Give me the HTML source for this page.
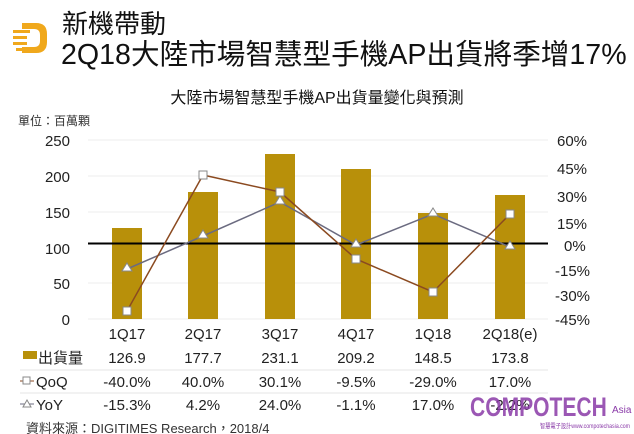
<!DOCTYPE html>
<html><head><meta charset="utf-8"><style>
body{margin:0;background:#fff;}
svg{display:block;font-family:"Liberation Sans","Noto Sans CJK TC",sans-serif;}
</style></head><body>
<svg width="634" height="434" viewBox="0 0 634 434">
<!-- logo -->
<g fill="#f0a81c">
<path d="M22 23 H36 Q47 23 47 34 V42 Q47 53 36 53 H22 V47 H34 Q40 47 40 41 V35 Q40 29 34 29 H22 Z"/>
<rect x="13" y="30" width="17" height="3"/><rect x="13" y="36" width="14" height="3"/><rect x="13" y="42" width="14" height="3"/><rect x="16" y="48" width="12" height="3"/>
</g>
<text x="62" y="33" font-size="26" fill="#111">新機帶動</text>
<text x="61" y="64" font-size="28.6" fill="#111">2Q18大陸市場智慧型手機AP出貨將季增17%</text>
<text x="317" y="103" font-size="16" text-anchor="middle" fill="#111">大陸市場智慧型手機AP出貨量變化與預測</text>
<text x="18" y="125" font-size="12" fill="#333">單位：百萬顆</text>
<!-- gridlines -->
<g stroke="#eee" stroke-width="1">
<line x1="88" y1="140" x2="548" y2="140"/><line x1="88" y1="176" x2="548" y2="176"/><line x1="88" y1="212" x2="548" y2="212"/><line x1="88" y1="283" x2="548" y2="283"/><line x1="88" y1="319" x2="548" y2="319"/>
</g>
<!-- left labels -->
<g font-size="15" fill="#222" text-anchor="end">
<text x="70" y="146">250</text><text x="70" y="182">200</text><text x="70" y="218">150</text><text x="70" y="254">100</text><text x="70" y="289">50</text><text x="70" y="325">0</text>
</g>
<g font-size="15" fill="#222">
<text x="557" y="146">60%</text><text x="557" y="174">45%</text><text x="557" y="202">30%</text><text x="557" y="229">15%</text><text x="564" y="251">0%</text><text x="555" y="276">-15%</text><text x="555" y="301">-30%</text><text x="555" y="325">-45%</text>
</g>
<!-- bars -->
<g fill="#b8900a">
<rect x="112" y="228" width="30" height="91"/>
<rect x="188" y="192" width="30" height="127"/>
<rect x="265" y="154" width="30" height="165"/>
<rect x="341" y="169" width="30" height="150"/>
<rect x="418" y="213" width="30" height="106"/>
<rect x="495" y="195" width="30" height="124"/>
</g>
<line x1="88" y1="243.5" x2="548" y2="243.5" stroke="#000" stroke-width="2"/>
<!-- YoY -->
<polyline points="127,269 203,236 280,202 356,245 433,214 510,247" fill="none" stroke="#6b6b80" stroke-width="1.5"/>
<g fill="#fff" stroke="#888" stroke-width="1">
<path d="M127,263 l5,8 h-10z"/><path d="M203,230 l5,8 h-10z"/><path d="M280,196 l5,8 h-10z"/><path d="M356,239 l5,8 h-10z"/><path d="M433,208 l5,8 h-10z"/><path d="M510,241 l5,8 h-10z"/>
</g>
<!-- QoQ -->
<polyline points="127,311 203,175 280,192 356,259 433,292 510,214" fill="none" stroke="#8b4a20" stroke-width="1.5"/>
<g fill="#fff" stroke="#888" stroke-width="1">
<rect x="123" y="307" width="8" height="8"/><rect x="199" y="171" width="8" height="8"/><rect x="276" y="188" width="8" height="8"/><rect x="352" y="255" width="8" height="8"/><rect x="429" y="288" width="8" height="8"/><rect x="506" y="210" width="8" height="8"/>
</g>
<!-- table -->
<g font-size="15" fill="#222" text-anchor="middle">
<text x="127" y="339">1Q17</text><text x="203" y="339">2Q17</text><text x="280" y="339">3Q17</text><text x="356" y="339">4Q17</text><text x="433" y="339">1Q18</text><text x="510" y="339">2Q18(e)</text>
<text x="127" y="363">126.9</text><text x="203" y="363">177.7</text><text x="280" y="363">231.1</text><text x="356" y="363">209.2</text><text x="433" y="363">148.5</text><text x="510" y="363">173.8</text>
<text x="127" y="387">-40.0%</text><text x="203" y="387">40.0%</text><text x="280" y="387">30.1%</text><text x="356" y="387">-9.5%</text><text x="433" y="387">-29.0%</text><text x="510" y="387">17.0%</text>
<text x="127" y="410">-15.3%</text><text x="203" y="410">4.2%</text><text x="280" y="410">24.0%</text><text x="356" y="410">-1.1%</text><text x="433" y="410">17.0%</text><text x="510" y="410">-2.2%</text>
</g>
<g stroke="#e4e4e4"><line x1="20" y1="370" x2="548" y2="370"/><line x1="20" y1="393" x2="548" y2="393"/></g>
<rect x="23" y="351" width="14" height="8" fill="#b8900a"/>
<text x="38" y="363" font-size="15" fill="#222">出貨量</text>
<line x1="20" y1="381" x2="34" y2="381" stroke="#8b4a20"/><rect x="23" y="377" width="7" height="7" fill="#fff" stroke="#888"/>
<text x="36" y="387" font-size="15" fill="#222">QoQ</text>
<line x1="20" y1="404" x2="34" y2="404" stroke="#6b6b80"/><path d="M27,400 l4,7 h-8z" fill="#fff" stroke="#888"/>
<text x="36" y="410" font-size="15" fill="#222">YoY</text>
<text x="26" y="433" font-size="13" fill="#333">資料來源：DIGITIMES Research，2018/4</text>
<text x="470" y="416" font-size="27" font-weight="bold" fill="#8a3aa8" opacity="0.85" transform="scale(0.78,1)" style="transform-origin:470px 416px">COMPOTECH</text>
<text x="612" y="413" font-size="10" fill="#8a3aa8">Asia</text>
<text x="540" y="428" font-size="6.5" fill="#8a3aa8" textLength="90" lengthAdjust="spacingAndGlyphs">智慧電子設計www.compotechasia.com</text>
</svg>
</body></html>
